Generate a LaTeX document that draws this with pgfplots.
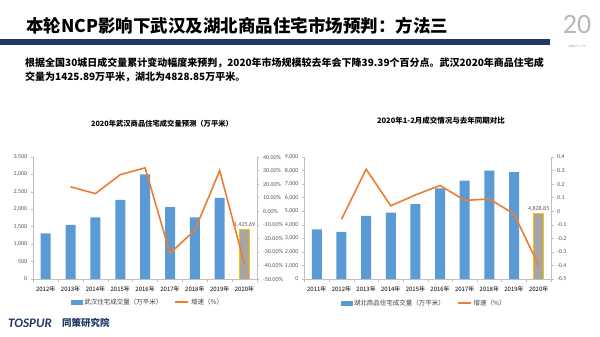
\documentclass[border=0pt]{standalone}
\usepackage{pgfplots}
\pgfplotsset{compat=1.18}
\usepackage{fontspec}
\setmainfont{Carlito}
\newfontfamily\cjk{Noto Sans CJK SC}
\definecolor{barblue}{HTML}{5B9BD5}
\definecolor{lineorange}{HTML}{ED7D31}
\definecolor{bargray}{HTML}{A5A5A5}
\definecolor{baryellow}{HTML}{FFC000}
\definecolor{axisgray}{HTML}{BFBFBF}
\definecolor{tickgray}{HTML}{595959}
\definecolor{navy}{HTML}{1F3864}
\definecolor{logogray}{HTML}{A6A6A6}
\pgfplotsset{
  common/.style={
    anchor=south west, scale only axis, height=122pt,
    axis line style={draw=axisgray, line width=0.6pt, -},
    tick align=outside, major tick length=2.5pt,
    ytick style={draw=axisgray, line width=0.5pt},
    yticklabel style={font=\fontsize{6}{7}\selectfont, text=tickgray},
    /pgf/number format/assume math mode=true,
    /pgf/number format/1000 sep={,},
  },
  barax/.style={
    common,
    axis x line*=bottom, axis y line*=left,
    xtick=data, xtick style={draw=none},
    xticklabel style={font=\cjk\fontsize{6}{7}\selectfont, text=black, yshift=-1pt},
    extra x tick labels={},
    extra x tick style={grid=none, xtick style={draw=axisgray, line width=0.5pt}, major tick length=3.5pt},
  },
  lineax/.style={
    common,
    axis y line*=right, axis x line=none,
    legend columns=2,
    legend style={draw=none, fill=none, anchor=center, font=\cjk\fontsize{6.5}{8}\selectfont, text=black!75,
      /tikz/every even column/.append style={column sep=10pt}},
    legend cell align=left,
  },
  barleg/.style={legend image code/.code={\fill[barblue] (0pt,-2pt) rectangle (11pt,2pt);}},
  lineleg/.style={legend image code/.code={\draw[lineorange,line width=1.6pt] (0pt,0pt) -- (13pt,0pt);}},
  graybar/.style={ybar, bar width=10pt, bar shift=0pt, fill=bargray, draw=baryellow,
    solid, line width=0.9pt,
    nodes near coords={\pgfmathprintnumber[fixed,fixed zerofill,precision=2]{\pgfplotspointmeta}},
    every node near coord/.append style={font=\fontsize{6}{7}\selectfont, text=tickgray, draw=none, inner sep=1.5pt}},
}
\begin{document}
\begin{tikzpicture}
\useasboundingbox (0,0) rectangle (600pt,337pt);
\fill[white] (0,0) rectangle (600pt,337pt);
% header
\node[anchor=west, inner sep=0pt, font=\cjk\bfseries\fontsize{17.5}{20}\selectfont] at (26pt,311pt) {本轮NCP影响下武汉及湖北商品住宅市场预判：方法三};
\fill[navy] (0pt,292pt) rectangle (550pt,297.5pt);
\node[text=logogray!80, font=\fontsize{28}{28}\selectfont, inner sep=0pt] at (577pt,312pt) {20};
\node[text=logogray, font=\cjk\fontsize{2.5}{3}\selectfont, inner sep=0pt] at (577pt,290pt) {同策地产二十年};
\node[anchor=base west, inner sep=0pt, font=\cjk\bfseries\fontsize{10}{14}\selectfont] at (25pt,270pt) {根据全国30城日成交量累计变动幅度来预判，2020年市场规模较去年会下降39.39个百分点。武汉2020年商品住宅成};
\node[anchor=base west, inner sep=0pt, font=\cjk\bfseries\fontsize{10}{14}\selectfont] at (25pt,256pt) {交量为1425.89万平米，湖北为4828.85万平米。};
% chart titles
\node[font=\cjk\bfseries\fontsize{7.3}{8}\selectfont] at (162pt,213pt) {2020年武汉商品住宅成交量预测（万平米）};
\node[font=\cjk\bfseries\fontsize{7.5}{8}\selectfont] at (441pt,216pt) {2020年1-2月成交情况与去年同期对比};

% ---------- left chart ----------
\begin{axis}[barax, at={(33.3pt,58pt)}, width=223.7pt,
  xmin=-0.5, xmax=8.5, ymin=0, ymax=3500,
  xtick={0,...,8},
  xticklabels={2012年,2013年,2014年,2015年,2016年,2017年,2018年,2019年,2020年},
  extra x ticks={-0.5,0.5,1.5,2.5,3.5,4.5,5.5,6.5,7.5,8.5},
  ytick={0,500,...,3500},
]
\addplot[ybar, bar width=10pt, bar shift=0pt, fill=barblue, draw=none]
  coordinates {(0,1310)(1,1550)(2,1770)(3,2270)(4,3000)(5,2060)(6,1770)(7,2330)};
\addplot[graybar] coordinates {(8,1425.69)};
\end{axis}
\begin{axis}[lineax, at={(33.3pt,58pt)}, width=223.7pt,
  xmin=-0.5, xmax=8.5, ymin=-50, ymax=40,
  ytick={-50,-40,...,40},
  yticklabel={\pgfmathprintnumber[fixed,fixed zerofill,precision=2]{\tick}\%},
  legend style={at={(0.513,-0.189)}},
]
\addlegendimage{barleg}
\addlegendentry{武汉住宅成交量（万平米）}
\addplot[lineorange, line width=1.6pt, lineleg]
  coordinates {(1,18)(2,13)(3,27)(4,32)(5,-31)(6,-14)(7,30)(8,-39.39)};
\addlegendentry{增速（\%）}
\end{axis}

% ---------- right chart ----------
\begin{axis}[barax, at={(304.5pt,58pt)}, width=246.5pt,
  xmin=-0.5, xmax=9.5, ymin=0, ymax=9000,
  xtick={0,...,9},
  xticklabels={2011年,2012年,2013年,2014年,2015年,2016年,2017年,2018年,2019年,2020年},
  extra x ticks={-0.5,0.5,1.5,2.5,3.5,4.5,5.5,6.5,7.5,8.5,9.5},
  ytick={0,1000,...,9000},
]
\addplot[ybar, bar width=10pt, bar shift=0pt, fill=barblue, draw=none]
  coordinates {(0,3670)(1,3470)(2,4650)(3,4890)(4,5530)(5,6690)(6,7250)(7,7990)(8,7890)};
\addplot[graybar] coordinates {(9,4828.85)};
\end{axis}
\begin{axis}[lineax, at={(304.5pt,58pt)}, width=246.5pt,
  xmin=-0.5, xmax=9.5, ymin=-0.5, ymax=0.4,
  ytick={-0.5,-0.4,-0.3,-0.2,-0.1,0,0.1,0.2,0.3,0.4},
  yticklabel style={/pgf/number format/fixed},
  legend style={at={(0.485,-0.197)}},
]
\addlegendimage{barleg}
\addlegendentry{湖北商品住宅成交量（万平米）}
\addplot[lineorange, line width=1.6pt, lineleg]
  coordinates {(1,-0.06)(2,0.31)(3,0.04)(4,0.12)(5,0.19)(6,0.08)(7,0.09)(8,-0.02)(9,-0.40)};
\addlegendentry{增速（\%）}
\end{axis}

% footer logo
\node[anchor=west, inner sep=0pt, text=navy, font=\fontsize{13}{13}\selectfont\bfseries\itshape] at (8pt,14pt) {TOSPUR};
\node[anchor=west, inner sep=0pt, text=navy, font=\cjk\bfseries\fontsize{9.5}{10}\selectfont] at (62pt,14pt) {同策研究院};
\end{tikzpicture}
\end{document}
